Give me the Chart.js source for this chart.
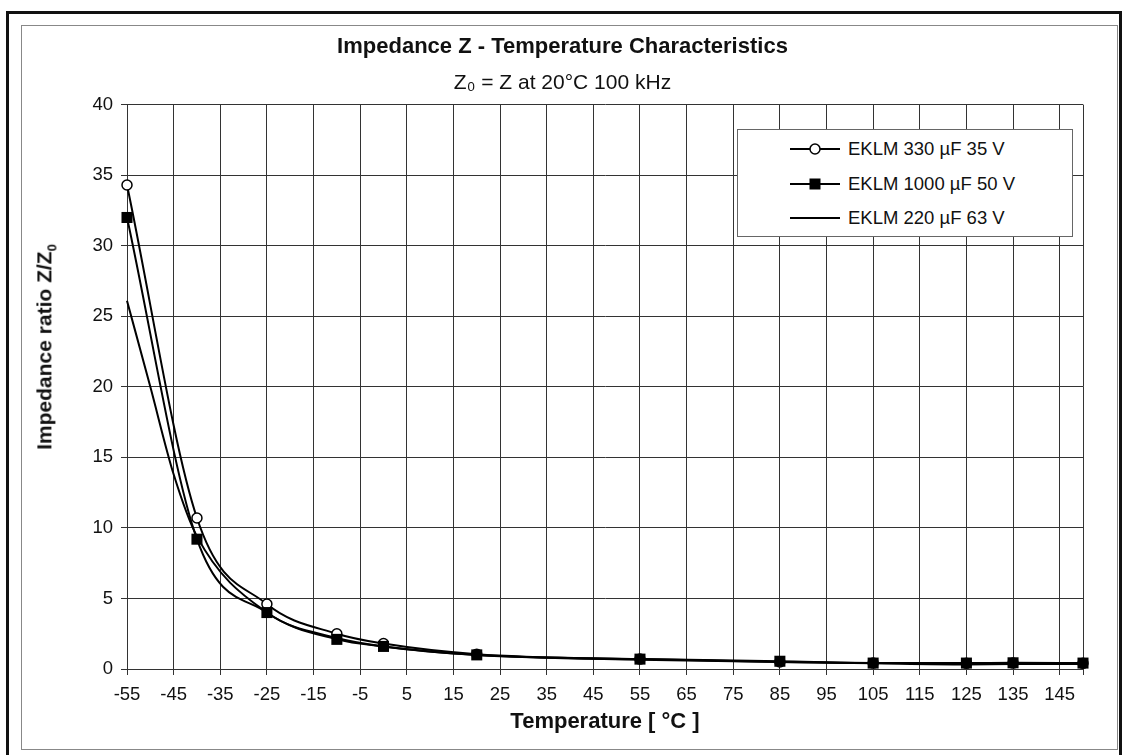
<!DOCTYPE html>
<html>
<head>
<meta charset="utf-8">
<script src="https://cdn.jsdelivr.net/npm/chart.js@4/dist/chart.umd.min.js"></script>
<style>
  html, body { margin: 0; padding: 0; background: #fff; }
  body { width: 1122px; height: 755px; position: relative; overflow: hidden; font-family: "Liberation Sans", Arial, sans-serif; color: #111; }
  #frameOuter { position: absolute; left: 6px; top: 11px; width: 1110px; height: 750px; border-top: 3px solid #111; border-left: 3px solid #111; border-right: 3px solid #111; }
  #frameInner { position: absolute; left: 21px; top: 25px; width: 1095px; height: 723px; border: 1px solid #888; }
  #wrap { position: absolute; left: 42px; top: 0; width: 1080px; height: 755px; }
  #yTitle { position: absolute; left: 46px; top: 347px; transform: translate(-50%, -50%) rotate(-90deg); font-weight: bold; font-size: 21px; white-space: nowrap; }
  #yTitle sub { font-size: 13px; }
  #legend { position: absolute; left: 737px; top: 129px; width: 334px; height: 106px; border: 1px solid #666; background: #fff; }
  .row { position: absolute; left: 52px; height: 20px; display: flex; align-items: center; font-size: 18.5px; white-space: nowrap; }
  .row svg { margin-right: 8px; }
</style>
</head>
<body>
<div id="frameOuter"></div>
<div id="frameInner"></div>
<div id="wrap"><canvas id="chart" width="1080" height="755"></canvas></div>
<div id="yTitle">Impedance ratio Z/Z<sub>0</sub></div>
<div id="legend"></div>

<script>
// series labels
let labels = ["EKLM 330 µF 35 V", "EKLM 1000 µF 50 V", "EKLM 220 µF 63 V"];

// temperatures with markers (°C)
let tempsA = [-55, -40, -25, -10, 0, 20, 55, 85, 105, 125, 135, 150];
// impedance ratio Z/Z0
let z330  = [34.3, 10.7, 4.6, 2.5, 1.8, 1.05, 0.7, 0.5, 0.42, 0.4, 0.42, 0.4];
let z1000 = [32.0, 9.2, 4.0, 2.1, 1.6, 1.0, 0.7, 0.55, 0.42, 0.42, 0.44, 0.42];

// 220 µF curve has no markers
let tempsB = [-55, -50, -45, -40, -25, -10, 0, 20, 55, 85, 105, 125, 135, 150];
let z220  = [26.1, 20.0, 13.8, 9.4, 4.0, 2.2, 1.6, 1.0, 0.65, 0.5, 0.4, 0.32, 0.35, 0.35];

// axis ticks
let xTicks = [-55, -45, -35, -25, -15, -5, 5, 15, 25, 35, 45, 55, 65, 75, 85, 95, 105, 115, 125, 135, 145, 150];
let yMin = 0, yMax = 40, yStep = 5;

function pairs(xs, ys){
  return xs.map((x, i) => ({ x: x, y: ys[i] }));
}

// legend (html)
function buildLegend(){
  let box = document.getElementById("legend");
  let tops = [9, 44, 78];
  let samples = [
    '<circle cx="25" cy="7" r="5" fill="#fff" stroke="#000" stroke-width="1.5"/>',
    '<rect x="19.5" y="1.5" width="11" height="11" fill="#000"/>',
    ''
  ];
  labels.forEach((l, i) => {
    let row = document.createElement("div");
    row.className = "row";
    row.style.top = tops[i] + "px";
    row.innerHTML = `<svg width="50" height="14"><line x1="0" y1="7" x2="50" y2="7" stroke="#000" stroke-width="2"/>${samples[i]}</svg><span>${l}</span>`;
    box.appendChild(row);
  });
}
buildLegend();

let font = "'Liberation Sans', Arial, sans-serif";

let chart = new Chart(document.getElementById("chart"), {
  type: "line",
  data: {
    datasets: [
      {
        label: labels[0],
        data: pairs(tempsA, z330),
        borderColor: "#000",
        borderWidth: 2,
        pointStyle: "circle",
        pointRadius: 5,
        pointBackgroundColor: "#fff",
        pointBorderColor: "#000",
        pointBorderWidth: 1.5,
        cubicInterpolationMode: "monotone",
        clip: false,
        order: 1
      },
      {
        label: labels[1],
        data: pairs(tempsA, z1000),
        borderColor: "#000",
        borderWidth: 2,
        pointStyle: "rect",
        pointRadius: 7.8,
        pointBackgroundColor: "#000",
        pointBorderColor: "#000",
        pointBorderWidth: 0,
        cubicInterpolationMode: "monotone",
        clip: false,
        order: 0
      },
      {
        label: labels[2],
        data: pairs(tempsB, z220),
        borderColor: "#000",
        borderWidth: 2,
        pointRadius: 0,
        cubicInterpolationMode: "monotone",
        clip: false,
        order: 2
      }
    ]
  },
  options: {
    responsive: false,
    animation: false,
    layout: { padding: { left: 0, right: 39, top: 0, bottom: 0 } },
    plugins: {
      legend: { display: false },
      tooltip: { enabled: false },
      title: {
        display: true,
        text: "Impedance Z - Temperature Characteristics",
        color: "#111",
        font: { family: font, size: 22, weight: "bold", lineHeight: 1.2 },
        padding: { top: 34, bottom: 0 }
      },
      subtitle: {
        display: true,
        text: "Z₀ = Z at 20°C 100 kHz",
        color: "#111",
        font: { family: font, size: 21, lineHeight: 1.2 },
        padding: { top: 10, bottom: 9 }
      }
    },
    scales: {
      x: {
        type: "linear",
        min: -55,
        max: 150,
        afterBuildTicks: s => { s.ticks = xTicks.map(v => ({ value: v })); },
        afterFit: s => { s.height = 86; },
        ticks: {
          autoSkip: false,
          maxRotation: 0,
          padding: 9,
          color: "#111",
          font: { family: font, size: 18.5 },
          callback: v => v === 150 ? "" : v
        },
        grid: { color: "#333", lineWidth: 1, tickLength: 6 },
        border: { color: "#333", width: 1 },
        title: {
          display: true,
          text: "Temperature [ °C ]",
          color: "#111",
          font: { family: font, size: 22, weight: "bold", lineHeight: 1.2 },
          padding: { top: 0, bottom: 20 }
        }
      },
      y: {
        min: yMin,
        max: yMax,
        afterFit: s => { s.width = 85; },
        ticks: {
          stepSize: yStep,
          padding: 8,
          color: "#111",
          font: { family: font, size: 18.5 }
        },
        grid: { color: "#333", lineWidth: 1, tickLength: 6 },
        border: { color: "#333", width: 1 }
      }
    }
  }
});
</script>
</body>
</html>
